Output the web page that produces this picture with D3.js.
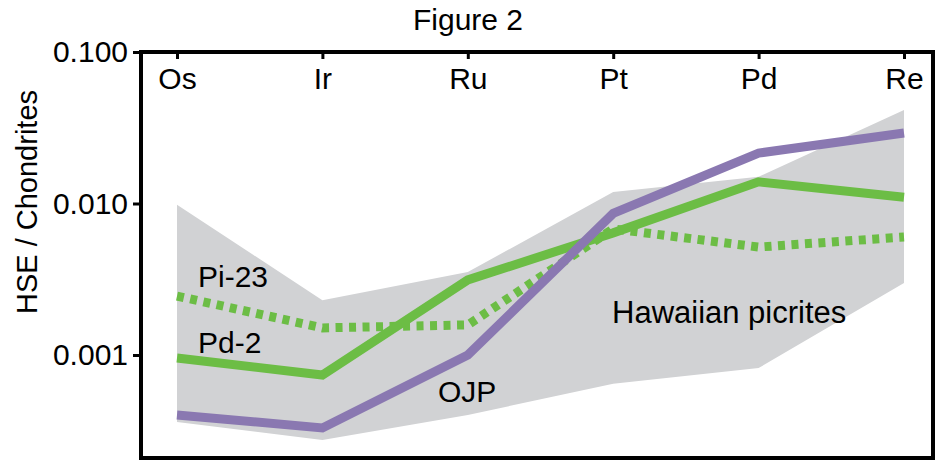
<!DOCTYPE html>
<html>
<head>
<meta charset="utf-8">
<script src="https://cdn.jsdelivr.net/npm/d3@7"></script>
<style>
  html, body { margin: 0; padding: 0; background: #fff; }
  text { font-family: "Liberation Sans", Arial, Helvetica, sans-serif; fill: #000; }
</style>
</head>
<body>
<svg id="chart" width="938" height="463"></svg>
<script>
// ---- data ----
const categories = ["Os", "Ir", "Ru", "Pt", "Pd", "Re"];
const ojp  = [0.000402, 0.00033, 0.00100, 0.0086, 0.0215, 0.0292];
const pd2  = [0.000955, 0.000738, 0.00313, 0.0064, 0.0139, 0.0110];
const pi23 = [0.00245, 0.00151, 0.00158, 0.0068, 0.00516, 0.00601];
const bandUpper = [0.0098, 0.0023, 0.00353, 0.0119, 0.0150, 0.0414];
const bandLower = [0.000361, 0.000275, 0.000402, 0.000645, 0.00082, 0.00299];
const yTicks = [0.1, 0.01, 0.001];
const yTickLabels = ["0.100", "0.010", "0.001"];

// ---- layout ----
const svg = d3.select("#chart");
const frame = { left: 141, right: 933, top: 52, bottom: 458 };

const x = d3.scalePoint().domain(categories).range([177, 904]);
const y = d3.scaleLog().domain([0.1, 0.001]).range([52, 355]);

const green = "#6cbd45", purple = "#8a78b1", gray = "#d1d2d4";

// band
const area = d3.area()
  .x((d, i) => x(categories[i]))
  .y0((d, i) => y(bandLower[i]))
  .y1((d) => y(d));
svg.append("path").datum(bandUpper).attr("d", area).attr("fill", gray);

const line = d3.line().x((d, i) => x(categories[i])).y(d => y(d));

svg.append("path").datum(pi23).attr("d", line)
  .attr("fill", "none").attr("stroke", green).attr("stroke-width", 9)
  .attr("stroke-dasharray", "7,6.5");
svg.append("path").datum(pd2).attr("d", line)
  .attr("fill", "none").attr("stroke", green).attr("stroke-width", 9);
svg.append("path").datum(ojp).attr("d", line)
  .attr("fill", "none").attr("stroke", purple).attr("stroke-width", 9);

// frame
svg.append("rect")
  .attr("x", frame.left).attr("y", frame.top)
  .attr("width", frame.right - frame.left).attr("height", frame.bottom - frame.top)
  .attr("fill", "none").attr("stroke", "#000").attr("stroke-width", 4);

// top axis (ticks inward)
const topAxis = d3.axisBottom(x).tickSize(7).tickSizeOuter(0).tickPadding(10);
const gTop = svg.append("g").attr("transform", `translate(0,${frame.top})`).call(topAxis);
gTop.select(".domain").remove();
gTop.selectAll("line").attr("stroke", "#000").attr("stroke-width", 3);
gTop.selectAll("text").attr("font-size", 30).attr("dy", null).attr("y", 37)
  .style("font-family", "'Liberation Sans', Arial, sans-serif").attr("fill", "#000");

// left axis
const leftAxis = d3.axisLeft(y).tickValues(yTicks)
  .tickFormat((d, i) => yTickLabels[i]).tickSize(8).tickSizeOuter(0).tickPadding(5);
const gLeft = svg.append("g").attr("transform", `translate(${frame.left},0)`).call(leftAxis);
gLeft.select(".domain").remove();
gLeft.selectAll("line").attr("stroke", "#000").attr("stroke-width", 3);
gLeft.selectAll("text").attr("font-size", 30)
  .style("font-family", "'Liberation Sans', Arial, sans-serif").attr("fill", "#000");

// title
svg.append("text").attr("x", 468).attr("y", 30).attr("text-anchor", "middle")
  .attr("font-size", 30).text("Figure 2");

// y label
svg.append("text").attr("transform", "translate(37,202) rotate(-90)")
  .attr("text-anchor", "middle").attr("font-size", 29).text("HSE / Chondrites");

// series labels
svg.append("text").attr("x", x("Os") + 21).attr("y", 287).attr("font-size", 30).text("Pi-23");
svg.append("text").attr("x", x("Os") + 21).attr("y", 353).attr("font-size", 30).text("Pd-2");
svg.append("text").attr("x", 438).attr("y", 402).attr("font-size", 30).text("OJP");
svg.append("text").attr("x", 612).attr("y", 323).attr("font-size", 31).text("Hawaiian picrites");
</script>
</body>
</html>
